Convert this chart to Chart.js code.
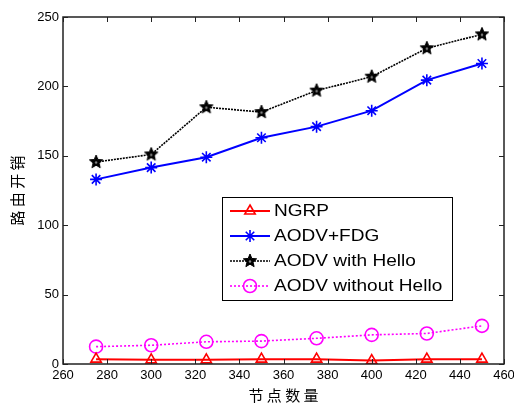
<!DOCTYPE html>
<html>
<head>
<meta charset="utf-8">
<script src="https://cdn.jsdelivr.net/npm/chart.js@4/dist/chart.umd.min.js"></script>
<style>
html,body{margin:0;padding:0;background:#fff;}
#wrap{width:514px;height:406px;position:relative;}
</style>
</head>
<body>
<div id="wrap"><canvas id="c" width="514" height="406"></canvas></div>
<script>
// ---- data ----
const nodes = [275, 300, 325, 350, 375, 400, 425, 450];
const ngrp = [3.5, 3, 3, 3.5, 3.5, 2.5, 3.5, 3.5];
const aodvFdg = [133, 141.5, 149, 163, 171, 182.5, 204.5, 216.5];
const aodvHello = [145.5, 151, 185, 181.5, 197, 207, 227.5, 237.5];
const aodvNoHello = [12.5, 13.5, 16, 16.5, 18.5, 21, 22, 27.5];
const seriesNames = ['NGRP', 'AODV+FDG', 'AODV with Hello', 'AODV without Hello'];
const xTitle = '节 点 数 量';
const yTitle = '路 由 开 销';

// pentagram marker
function makeStar(r, color) {
  const s = Math.ceil(r * 2 + 4);
  const c = document.createElement('canvas');
  c.width = s; c.height = s;
  const g = c.getContext('2d');
  g.translate(s / 2, s / 2);
  g.beginPath();
  for (let i = 0; i < 10; i++) {
    const rr = i % 2 === 0 ? r : r * 0.45;
    const a = -Math.PI / 2 + i * Math.PI / 5;
    const px = rr * Math.cos(a), py = rr * Math.sin(a);
    if (i === 0) g.moveTo(px, py); else g.lineTo(px, py);
  }
  g.closePath();
  g.fillStyle = color;
  g.fill();
  g.strokeStyle = color; g.lineWidth = 1; g.stroke();
  g.beginPath(); g.arc(0, 0.5, 1.2, 0, Math.PI * 2); g.fillStyle = '#888'; g.fill();
  return c;
}
const starImg = makeStar(7, '#000');

const toPts = arr => nodes.map((x, i) => ({x: x, y: arr[i]}));

const datasets = [
  {label: seriesNames[0], data: toPts(ngrp), borderColor: '#ff0000', backgroundColor: 'rgba(0,0,0,0)',
   borderWidth: 2, pointStyle: 'triangle', pointRadius: 6, pointBorderWidth: 1.6, pointBorderColor: '#ff0000'},
  {label: seriesNames[1], data: toPts(aodvFdg), borderColor: '#0000ff', backgroundColor: '#0000ff',
   borderWidth: 2, pointStyle: 'star', pointRadius: 6, pointBorderWidth: 1.6, pointBorderColor: '#0000ff'},
  {label: seriesNames[2], data: toPts(aodvHello), borderColor: '#000', backgroundColor: '#000',
   borderWidth: 1.6, borderDash: [2, 1], pointStyle: starImg, pointRadius: 7},
  {label: seriesNames[3], data: toPts(aodvNoHello), borderColor: '#ff00ff', backgroundColor: 'rgba(0,0,0,0)',
   borderWidth: 1.6, borderDash: [2, 2], pointStyle: 'circle', pointRadius: 6.5, pointBorderWidth: 1.6, pointBorderColor: '#ff00ff'}
];

const boxPlugin = {
  id: 'boxPlugin',
  afterDraw(chart) {
    const ctx = chart.ctx;
    const a = chart.chartArea;
    const xs = chart.scales.x, ys = chart.scales.y;
    ctx.save();
    ctx.strokeStyle = '#222';
    ctx.lineWidth = 1.5;
    ctx.setLineDash([]);
    ctx.strokeRect(a.left, a.top, a.right - a.left, a.bottom - a.top);
    ctx.lineWidth = 1;
    xs.ticks.forEach(t => {
      const px = Math.round(xs.getPixelForValue(t.value)) + 0.5;
      ctx.beginPath(); ctx.moveTo(px, a.bottom); ctx.lineTo(px, a.bottom - 5); ctx.stroke();
      ctx.beginPath(); ctx.moveTo(px, a.top); ctx.lineTo(px, a.top + 5); ctx.stroke();
    });
    ys.ticks.forEach(t => {
      const py = Math.round(ys.getPixelForValue(t.value)) + 0.5;
      ctx.beginPath(); ctx.moveTo(a.left, py); ctx.lineTo(a.left + 5, py); ctx.stroke();
      ctx.beginPath(); ctx.moveTo(a.right, py); ctx.lineTo(a.right - 5, py); ctx.stroke();
    });
    // legend
    const L = 222, T = 197, W = 230, H = 103;
    ctx.fillStyle = '#fff';
    ctx.fillRect(L, T, W, H);
    ctx.strokeStyle = '#000'; ctx.lineWidth = 1;
    ctx.strokeRect(L + 0.5, T + 0.5, W, H);
    const rows = [211, 236, 261, 286];
    chart.data.datasets.forEach((ds, i) => {
      const y = rows[i];
      ctx.save();
      ctx.strokeStyle = ds.borderColor;
      ctx.lineWidth = ds.borderWidth;
      ctx.setLineDash(ds.borderDash || []);
      ctx.beginPath(); ctx.moveTo(230, y); ctx.lineTo(270, y); ctx.stroke();
      ctx.setLineDash([]);
      const opts = {
        pointStyle: ds.pointStyle, radius: ds.pointRadius, rotation: 0,
        borderWidth: ds.pointBorderWidth || 1
      };
      ctx.strokeStyle = ds.pointBorderColor || ds.borderColor;
      ctx.fillStyle = ds.backgroundColor;
      ctx.lineWidth = ds.pointBorderWidth || 1;
      Chart.helpers.drawPoint(ctx, opts, 250, y);
      ctx.restore();
      ctx.save();
      ctx.fillStyle = '#000';
      ctx.font = '16px "Liberation Sans", Arial, sans-serif';
      ctx.textBaseline = 'middle';
      ctx.translate(274, y + 1);
      ctx.scale(1.19, 1);
      ctx.fillText(ds.label, 0, 0);
      ctx.restore();
    });
    ctx.restore();
  }
};

new Chart(document.getElementById('c'), {
  type: 'line',
  data: {datasets: datasets},
  plugins: [boxPlugin],
  options: {
    responsive: false,
    animation: false,
    devicePixelRatio: 1,
    layout: {padding: {left: 0, top: 17, right: 10, bottom: 0}},
    plugins: {legend: {display: false}, tooltip: {enabled: false}},
    scales: {
      x: {
        type: 'linear', min: 260, max: 460,
        ticks: {stepSize: 20, color: '#000', padding: 4, maxRotation: 0,
          font: {family: '"Liberation Sans", Arial, sans-serif', size: 13}},
        grid: {display: true, drawOnChartArea: false, drawTicks: false},
        border: {display: false},
        title: {display: true, text: xTitle, color: '#000', padding: {top: 0, bottom: 2},
          font: {family: '"Noto Sans CJK SC", sans-serif', size: 15}},
        afterFit: s => { s.height = 42; s.paddingRight = 0; s.paddingLeft = 0; }
      },
      y: {
        type: 'linear', min: 0, max: 250,
        ticks: {stepSize: 50, color: '#000', padding: 4,
          font: {family: '"Liberation Sans", Arial, sans-serif', size: 13}},
        grid: {display: true, drawOnChartArea: false, drawTicks: false},
        border: {display: false},
        title: {display: true, text: yTitle, color: '#000', padding: {top: 8, bottom: 0},
          font: {family: '"Noto Sans CJK SC", sans-serif', size: 15}},
        afterFit: s => { s.width = 63; s.paddingTop = 0; s.paddingBottom = 0; }
      }
    }
  }
});
</script>
</body>
</html>
